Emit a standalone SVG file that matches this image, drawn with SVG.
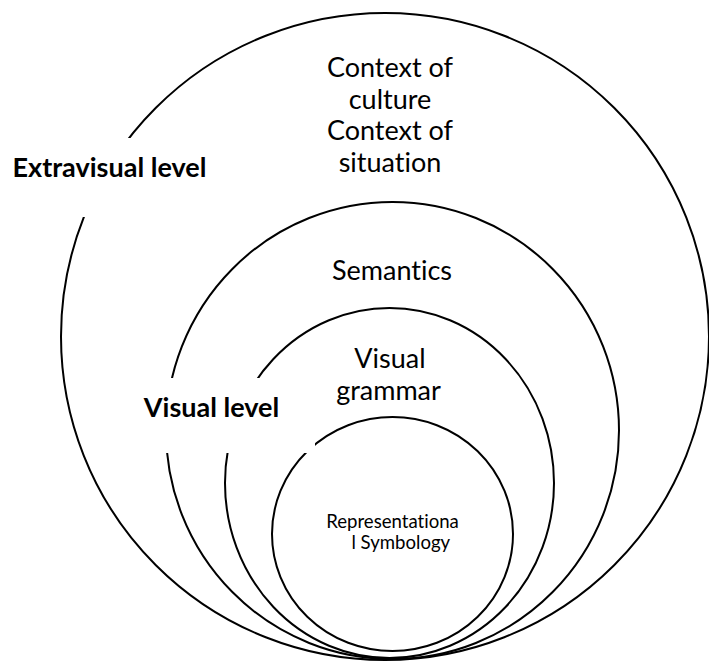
<svg xmlns="http://www.w3.org/2000/svg" width="709" height="662" viewBox="0 0 709 662">
  <style>
    text { font-family: Lato, "Open Sans", "Liberation Sans", sans-serif; fill: #000; text-anchor: middle; font-variant-ligatures: none; }
    .ring { fill: none; stroke: #000; stroke-width: 2; }
    .mask { fill: #fff; stroke: none; }
    .lbl { font-size: 27px; }
    .lvl { font-size: 27px; font-weight: bold; }
    .small { font-size: 18.6px; }
  </style>
  <rect width="709" height="662" fill="#fff"/>

  <!-- nested levels, all touching at the bottom -->
  <g id="extravisual-ring">
    <ellipse class="ring" cx="385" cy="336.5" rx="324" ry="323.5"/>
  </g>
  <g id="semantics-ring">
    <ellipse class="ring" cx="392.5" cy="430.5" rx="226.5" ry="228.5"/>
  </g>
  <g id="grammar-ring">
    <ellipse class="ring" cx="389.5" cy="483" rx="164.5" ry="175"/>
  </g>
  <g id="symbology-ring">
    <ellipse class="ring" cx="392.5" cy="534" rx="120.5" ry="117"/>
  </g>

  <!-- level captions sit on white boxes that break the rings -->
  <g id="extravisual-level">
    <rect class="mask" x="4" y="138" width="210" height="79"/>
    <text class="lvl" x="109.5" y="177">Extravisual level</text>
  </g>
  <g id="visual-level">
    <rect class="mask" x="140" y="378" width="175" height="75"/>
    <text class="lvl" x="211.5" y="417">Visual level</text>
  </g>

  <g id="context">
    <text class="lbl" x="390" y="77">Context of</text>
    <text class="lbl" x="390" y="108.5">culture</text>
    <text class="lbl" x="390" y="140">Context of</text>
    <text class="lbl" x="390" y="171.5">situation</text>
  </g>
  <g id="semantics">
    <text class="lbl" x="392" y="280">Semantics</text>
  </g>
  <g id="visual-grammar">
    <text class="lbl" x="390" y="368">Visual</text>
    <text class="lbl" x="388.5" y="400">grammar</text>
  </g>
  <g id="representational-symbology">
    <text class="small" x="392.5" y="527.5">Representationa</text>
    <text class="small" x="400.8" y="549">l Symbology</text>
  </g>
</svg>
